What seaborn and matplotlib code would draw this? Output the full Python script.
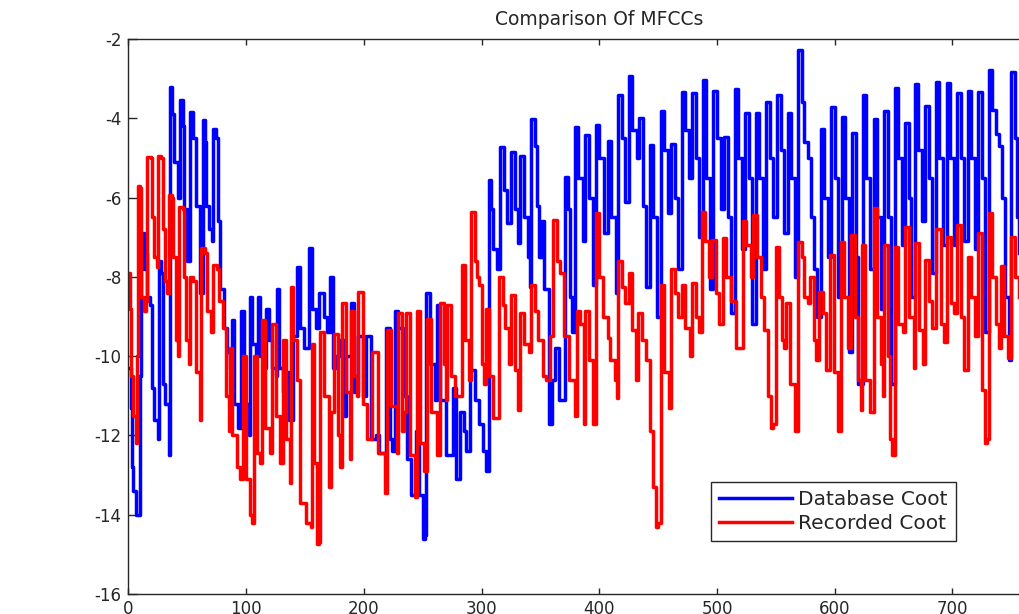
import numpy as np
import pandas as pd
import matplotlib
matplotlib.use("Agg")
import matplotlib.pyplot as plt
import seaborn as sns
from matplotlib.lines import Line2D

title = "Comparison Of MFCCs"
series_names = ["Database Coot", "Recorded Coot"]
x_ticks = [0, 100, 200, 300, 400, 500, 600, 700, 800]
y_ticks = [-16, -14, -12, -10, -8, -6, -4, -2]

db_x = [0, 2, 3, 4, 6, 9, 10, 11, 13, 14, 16, 18, 20, 22, 25, 26, 28, 29, 31, 34,
        35, 37, 39, 42, 44, 46, 47, 50, 52, 55, 57, 61, 63, 65, 66, 68, 71, 72, 74, 76,
        78, 81, 84, 86, 88, 90, 93, 96, 98, 102, 103, 105, 108, 110, 112, 115, 117, 119, 122, 125,
        126, 128, 131, 133, 136, 140, 143, 146, 149, 153, 156, 159, 162, 166, 169, 171, 174, 176, 180, 183,
        185, 189, 192, 195, 199, 202, 206, 210, 213, 219, 222, 224, 226, 229, 233, 237, 240, 244, 247, 250,
        252, 253, 256, 260, 262, 265, 270, 273, 276, 278, 282, 285, 287, 290, 294, 298, 301, 304, 306, 308,
        310, 313, 316, 319, 322, 325, 328, 331, 333, 336, 339, 341, 342, 345, 347, 349, 351, 353, 357, 360,
        362, 366, 371, 373, 375, 377, 379, 382, 386, 388, 391, 395, 397, 400, 404, 407, 410, 414, 416, 419,
        422, 425, 428, 432, 434, 437, 440, 443, 446, 449, 452, 455, 458, 461, 464, 467, 470, 473, 476, 479,
        482, 485, 488, 491, 494, 497, 500, 503, 506, 509, 512, 515, 518, 521, 524, 527, 530, 533, 536, 539,
        542, 545, 548, 551, 554, 557, 560, 563, 566, 569, 572, 574, 577, 580, 582, 585, 588, 591, 594, 597,
        600, 603, 606, 609, 612, 615, 618, 620, 624, 627, 630, 633, 636, 639, 642, 645, 648, 651, 654, 657,
        660, 663, 665, 668, 671, 674, 677, 680, 683, 686, 689, 692, 695, 698, 701, 704, 707, 710, 713, 716,
        719, 722, 725, 728, 731, 734, 737, 740, 742, 745, 748, 750, 753, 755, 757]
db_y = [-10.3, -11.3, -12.8, -13.4, -14.0, -14.0, -10.5, -6.9, -7.8, -7.4, -8.5, -8.7, -10.8, -11.6, -12.1, -7.6, -7.9, -10.7, -11.2, -12.5,
        -3.2, -3.9, -5.1, -6.0, -3.55, -4.2, -6.3, -7.6, -3.85, -4.5, -6.2, -8.4, -4.05, -4.6, -6.2, -6.8, -7.1, -4.26, -4.5, -6.6,
        -8.3, -9.3, -9.9, -10.3, -9.1, -11.2, -11.8, -8.85, -11.2, -12.0, -8.5, -9.7, -10.0, -8.5, -10.0, -10.3, -8.8, -9.6, -10.3, -10.5,
        -8.3, -10.3, -10.9, -10.4, -11.6, -9.5, -7.75, -9.3, -9.8, -7.27, -8.8, -9.3, -8.4, -9.0, -9.4, -8.0, -10.3, -10.0, -9.6, -11.5,
        -10.0, -8.66, -10.9, -9.5, -11.0, -9.5, -12.1, -12.0, -12.45, -9.3, -12.1, -12.4, -8.85, -9.3, -11.0, -12.6, -13.5, -11.9, -13.5, -14.6,
        -14.5, -8.4, -10.2, -11.1, -8.7, -11.1, -12.5, -12.5, -10.8, -13.1, -11.4, -11.9, -12.4, -10.35, -11.1, -11.7, -12.4, -12.9, -5.56, -6.3,
        -7.3, -7.8, -4.72, -5.8, -6.65, -4.85, -6.3, -7.15, -4.95, -6.5, -7.5, -8.25, -4.02, -4.7, -6.2, -7.5, -6.6, -8.3, -11.7, -10.6,
        -9.8, -11.1, -5.47, -6.3, -8.5, -9.4, -4.21, -5.5, -7.1, -4.42, -6.0, -8.2, -4.17, -5.0, -6.9, -4.57, -6.5, -8.4, -3.41, -4.5,
        -6.1, -2.93, -4.3, -5.0, -4.0, -6.2, -8.25, -4.67, -6.5, -9.0, -3.82, -4.8, -6.4, -4.65, -6.0, -7.8, -3.34, -4.3, -5.5, -3.37,
        -5.0, -7.0, -3.03, -5.5, -8.3, -3.3, -4.5, -6.3, -4.47, -6.5, -8.9, -3.26, -5.0, -7.3, -3.86, -5.5, -9.2, -3.86, -5.5, -7.8,
        -3.6, -5.0, -6.5, -3.41, -4.8, -6.9, -3.86, -5.5, -8.0, -2.28, -3.6, -4.6, -5.0, -6.5, -7.8, -9.0, -4.27, -6.0, -7.5, -3.71,
        -5.5, -8.5, -3.96, -6.0, -9.9, -4.36, -7.5, -10.7, -3.41, -5.5, -7.8, -4.02, -6.5, -8.8, -3.82, -6.5, -10.7, -3.24, -5.0, -7.2,
        -4.12, -6.0, -8.5, -3.14, -4.8, -6.6, -3.7, -5.5, -7.9, -3.08, -5.0, -7.2, -3.1, -5.0, -7.2, -3.37, -5.0, -7.1, -3.3, -5.0,
        -7.3, -3.33, -5.5, -9.4, -2.78, -3.8, -4.4, -4.7, -6.0, -8.5, -10.1, -2.82, -4.5, -6.5, -7.4]

rec_x = [0, 1, 2, 4, 6, 7, 8, 10, 11, 13, 15, 16, 19, 20, 22, 24, 25, 28, 29, 31,
         33, 34, 37, 38, 40, 42, 43, 46, 47, 49, 51, 52, 55, 57, 61, 62, 65, 67, 70, 72,
         75, 77, 80, 83, 85, 86, 88, 92, 95, 97, 100, 103, 105, 107, 109, 112, 113, 116, 120, 122,
         125, 129, 131, 134, 137, 138, 140, 143, 146, 151, 155, 156, 158, 160, 162, 163, 166, 170, 172, 175,
         178, 180, 181, 185, 188, 189, 192, 194, 195, 199, 203, 207, 212, 218, 220, 223, 228, 229, 232, 234,
         236, 239, 243, 245, 248, 251, 254, 257, 262, 265, 268, 270, 271, 274, 277, 283, 286, 289, 291, 294,
         296, 298, 300, 302, 304, 306, 310, 315, 318, 320, 323, 325, 328, 331, 333, 336, 340, 342, 345, 348,
         352, 355, 358, 361, 364, 367, 370, 374, 379, 381, 384, 387, 388, 391, 395, 397, 400, 403, 407, 409,
         413, 415, 416, 419, 422, 425, 428, 431, 433, 436, 440, 443, 446, 448, 450, 452, 455, 459, 461, 464,
         467, 470, 473, 477, 479, 482, 485, 487, 490, 493, 496, 499, 502, 505, 508, 512, 516, 520, 522, 525,
         529, 531, 534, 537, 540, 543, 546, 548, 550, 553, 555, 557, 559, 562, 566, 569, 572, 574, 577, 579,
         582, 584, 587, 590, 593, 596, 599, 603, 605, 608, 611, 614, 617, 620, 622, 623, 626, 630, 633, 636,
         639, 641, 642, 645, 647, 649, 651, 654, 658, 660, 663, 667, 668, 672, 675, 677, 680, 683, 686, 690,
         693, 695, 699, 701, 704, 707, 710, 713, 716, 719, 722, 725, 728, 729, 731, 734, 737, 740, 741, 744,
         747, 750, 753, 757]
rec_y = [-7.9, -8.8, -10.5, -11.5, -12.2, -10.0, -5.7, -5.75, -8.5, -8.85, -8.6, -4.97, -5.0, -6.5, -7.5, -7.75, -4.94, -5.0, -6.8, -8.1,
         -8.4, -5.94, -6.0, -7.5, -9.6, -10.0, -6.23, -6.3, -8.0, -9.6, -10.2, -8.0, -8.1, -10.4, -11.6, -7.27, -7.4, -8.85, -9.4, -7.7,
         -7.8, -8.6, -9.3, -11.0, -11.9, -9.8, -12.0, -12.8, -13.1, -10.0, -13.1, -14.0, -14.2, -10.0, -12.45, -12.7, -9.1, -11.8, -12.45, -9.2,
         -11.5, -12.7, -9.6, -12.1, -13.2, -8.25, -9.6, -10.6, -13.7, -14.2, -14.3, -9.7, -12.7, -14.75, -14.7, -9.4, -11.0, -13.3, -11.4, -9.45,
         -12.0, -12.8, -8.66, -10.9, -12.6, -8.85, -10.5, -11.0, -8.37, -11.2, -12.1, -9.9, -12.45, -13.45, -9.35, -11.25, -12.45, -8.9, -11.9, -11.4,
         -8.9, -12.5, -13.55, -8.85, -12.2, -12.9, -9.06, -11.4, -12.5, -8.66, -10.2, -11.1, -8.7, -10.5, -11.0, -7.7, -9.6, -10.6, -6.36, -7.6,
         -8.0, -8.2, -10.2, -10.7, -8.8, -10.5, -11.55, -8.0, -8.7, -9.3, -10.2, -8.46, -10.35, -11.35, -8.9, -9.7, -9.9, -8.2, -8.85, -9.6,
         -10.5, -10.6, -9.5, -6.57, -7.6, -7.9, -9.5, -10.6, -11.5, -8.85, -9.2, -11.7, -8.85, -10.1, -11.7, -6.4, -8.0, -9.0, -9.55, -10.1,
         -10.6, -11.05, -7.6, -8.25, -8.66, -7.9, -9.35, -10.6, -8.9, -9.6, -10.1, -11.9, -13.3, -14.3, -14.2, -8.2, -10.4, -11.3, -7.8, -8.4,
         -9.0, -8.2, -9.3, -10.0, -8.15, -9.0, -9.4, -6.36, -7.1, -8.0, -7.07, -8.4, -9.2, -7.03, -8.0, -8.6, -9.8, -9.8, -6.6, -7.2,
         -8.0, -6.43, -7.5, -8.5, -9.35, -11.0, -11.8, -11.7, -7.25, -8.5, -9.6, -9.8, -8.66, -10.7, -11.9, -7.12, -7.5, -8.5, -8.66, -8.0,
         -9.6, -10.1, -8.38, -8.9, -10.35, -7.45, -10.4, -11.9, -7.12, -8.5, -9.8, -6.95, -9.0, -10.6, -11.35, -7.2, -10.6, -11.4, -6.27, -9.0,
         -10.2, -11.0, -7.2, -10.0, -12.1, -12.5, -7.25, -9.2, -9.4, -6.75, -9.0, -10.3, -7.15, -9.35, -10.2, -7.58, -8.6, -9.3, -6.8, -9.2,
         -9.65, -7.0, -8.66, -8.9, -6.7, -9.0, -10.35, -7.5, -8.5, -9.5, -6.9, -10.85, -12.2, -12.1, -6.4, -8.0, -9.2, -9.8, -7.73, -9.5,
         -10.05, -7.0, -8.0, -8.5]

df = pd.concat([
    pd.DataFrame({"x": db_x, "y": db_y, "series": series_names[0]}),
    pd.DataFrame({"x": rec_x, "y": rec_y, "series": series_names[1]}),
], ignore_index=True)

plt.rcParams["font.family"] = ["DejaVu Sans"]
fig = plt.figure(figsize=(10.2, 6.14), dpi=100)
fig.patch.set_facecolor("white")
ax = fig.add_axes([128.5 / 1020, 20 / 614, 941.6 / 1020, 555 / 614])

sns.lineplot(data=df, x="x", y="y", hue="series", sort=False, estimator=None,
             palette={series_names[0]: "#0000FF", series_names[1]: "#FF0000"},
             linewidth=2.5, ax=ax, legend=False, drawstyle="steps-post")

ax.set_xlim(0, 800)
ax.set_ylim(-16, -2)
ax.set_xticks(x_ticks)
ax.set_yticks(y_ticks)
ax.set_xticklabels([str(v) for v in x_ticks])
ax.set_yticklabels([str(v) for v in y_ticks])
ax.set_xlabel("")
ax.set_ylabel("")
for s in ax.spines.values():
    s.set_color("#262626")
    s.set_linewidth(1.0)
ax.tick_params(axis="x", direction="in", length=4.5, width=1.0, top=True, bottom=True,
               labelsize=12, pad=4, colors="#262626")
ax.tick_params(axis="y", direction="in", length=6.5, width=1.0, left=True, right=True,
               labelsize=12, pad=5, colors="#262626")
ax.set_title(title, fontsize=13.5, pad=10, color="#262626")

handles = [Line2D([], [], color="#0000FF", lw=2.5), Line2D([], [], color="#FF0000", lw=2.5)]
leg = ax.legend(handles, series_names, loc="lower left", bbox_to_anchor=(0.619, 0.0955),
                frameon=True, fancybox=False, framealpha=1, edgecolor="#262626",
                fontsize=14.5, handlelength=3.6, handletextpad=0.3, labelspacing=0.25,
                borderpad=0.4, borderaxespad=0)
leg.get_frame().set_linewidth(1.0)
for t in leg.get_texts():
    t.set_color("#262626")

fig.savefig("out.png", dpi=100, facecolor="white")
